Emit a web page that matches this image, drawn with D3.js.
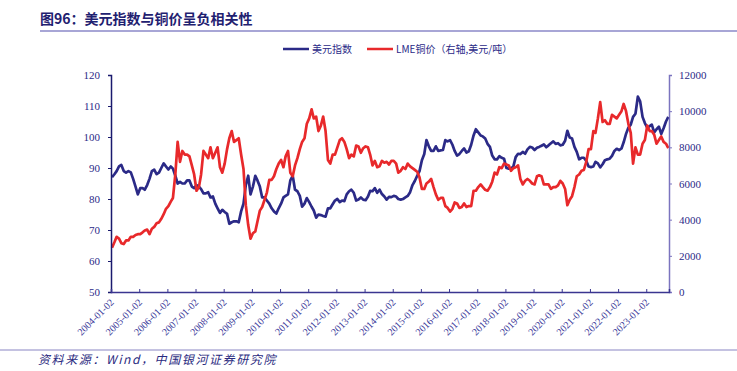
<!DOCTYPE html>
<html>
<head>
  <meta charset="utf-8">
  <script src="https://d3js.org/d3.v7.min.js"></script>
  <title>美元指数与铜价</title>
  <style>
    body { margin: 0; background: #fff; }
    text { font-family: "Liberation Serif", "Times New Roman", serif; }
    .cjk { font-family: "Noto Sans CJK SC", sans-serif; }
  </style>
</head>
<body>
<script>
// monthly values, Jan 2004 - Oct 2023
var dxy = [
  87.0, 88.0, 89.0, 90.5, 91.0, 89.0, 88.5, 89.0, 88.6, 86.5, 84.0, 81.5,
  83.5, 83.5, 83.0, 84.5, 86.5, 89.0, 89.5, 88.0, 88.5, 90.0, 91.5, 90.5,
  89.5, 90.5, 89.8, 87.5, 85.0, 85.5, 85.0, 85.0, 86.0, 86.0, 84.0, 83.5,
  84.5, 84.0, 83.2, 81.8, 81.8, 82.2, 80.5, 80.8, 78.5, 77.0, 75.5, 76.5,
  75.8, 75.2, 72.0, 72.5, 72.8, 72.8, 72.5, 76.0, 78.5, 84.5, 87.5, 81.5,
  84.0, 87.5, 86.0, 84.0, 80.5, 80.5, 79.5, 78.5, 77.0, 76.0, 75.3, 77.0,
  78.5, 80.5, 81.0, 81.5, 86.0, 87.5, 83.0, 82.5, 81.0, 77.5, 78.5, 80.3,
  79.0, 77.5, 76.3, 74.0, 75.0, 74.8, 74.5, 74.3, 77.0, 77.0, 78.3, 79.5,
  80.0, 79.0, 79.5, 79.3, 81.5, 82.5, 83.0, 82.0, 79.5, 79.8, 80.5, 79.8,
  79.6, 80.8, 82.6, 82.5, 83.5, 82.0, 83.0, 81.6, 80.8, 79.8, 80.7, 80.6,
  81.0, 80.8, 80.0, 79.8, 80.0, 80.5, 81.0, 82.2, 84.5, 85.8, 87.5, 89.0,
  92.5, 94.5, 99.0, 97.0, 95.5, 95.5, 97.0, 95.5, 95.7, 95.8, 99.0, 98.6,
  99.0, 97.5, 95.5, 94.0, 94.5, 95.5, 96.3, 95.0, 95.4, 97.5, 100.5, 102.5,
  101.5, 100.5, 100.2, 99.5, 97.8, 96.8, 94.0, 92.8, 92.8, 93.8, 93.3, 93.0,
  90.0, 89.8, 89.8, 90.5, 93.5, 94.6, 94.5, 95.2, 94.6, 96.0, 96.8, 96.6,
  95.8, 96.5, 96.8, 97.2, 97.6, 96.7, 97.3, 98.0, 98.6, 97.8, 98.0, 97.3,
  97.5, 98.8, 102.0, 99.8, 99.5, 96.8, 95.2, 92.8, 93.3, 93.3, 92.3, 90.5,
  90.3, 90.5, 92.0, 91.5, 90.2, 91.2, 92.5, 92.8, 93.0, 93.9, 95.5, 96.2,
  95.8, 96.3, 98.3, 101.0, 103.0, 104.0, 106.5, 107.5, 113.0, 111.5, 106.5, 104.5,
  103.0, 103.5, 104.0, 101.5, 102.5, 103.3, 101.0, 102.8, 105.0, 106.5
];

var copper = [
  2450, 2750, 3050, 2950, 2700, 2650, 2850, 2850, 3050, 3050, 3150, 3200,
  3200, 3300, 3400, 3450, 3200, 3500, 3600, 3800, 3850, 4050, 4300, 4600,
  4750, 5000, 5200, 6500, 8300, 7200, 7800, 7600, 7600, 7500, 7000, 6500,
  5600, 5800, 6500, 7800, 7600, 7400, 8000, 7400, 7700, 8000, 6900, 6600,
  7100, 7900, 8500, 8900, 8300, 8400, 8500, 7600, 6800, 4800, 3700, 2950,
  3250, 3350, 3900, 4500, 4700, 5100, 5500, 6200, 6200, 6400, 6800, 7100,
  7300, 6900, 7500, 7800, 6600, 6400, 7000, 7400, 7900, 8300, 8500, 9300,
  9600, 10100, 9600, 9700, 8900, 9200, 9700, 8900, 7300, 7100, 7600, 7600,
  8000, 8400, 8500, 8300, 7900, 7400, 7600, 7500, 8100, 8050, 7700, 7950,
  8050, 8000, 7600, 7000, 7250, 6900, 6950, 7250, 7150, 7200, 7050, 7250,
  7250, 7100, 6600, 6700, 6900, 6800, 7100, 6950, 6850, 6750, 6650, 6350,
  5700, 5700, 6000, 6100, 6250, 5800, 5400, 5100, 5200, 5200, 4750, 4650,
  4450, 4600, 4950, 4900, 4650, 4700, 4900, 4700, 4750, 4750, 5600, 5600,
  5800, 5950, 5800, 5650, 5600, 5800, 6100, 6600, 6500, 6900, 6850, 7100,
  7050, 7000, 6700, 6850, 6900, 7000, 6250, 5950, 6150, 6250, 6150, 6000,
  5950, 6400, 6450, 6400, 5950, 5950, 5950, 5700, 5800, 5800, 5900, 6150,
  6000, 5700, 4800, 5100, 5300, 5800, 6400, 6500, 6700, 6750, 7200, 7900,
  7900, 8900, 8800, 9600, 10500, 9400, 9500, 9300, 9300, 9800, 9700, 9600,
  9800, 10000, 10400, 10000, 9300, 8800, 7100, 8000, 7600, 7600, 8200, 8400,
  9200, 8900, 8900, 8700, 8200, 8400, 8600, 8300, 8200, 7950
];

var years = d3.range(2004, 2024);
var leftTicks = [50, 60, 70, 80, 90, 100, 110, 120];
var rightTicks = [0, 2000, 4000, 6000, 8000, 10000, 12000];

var dates = dxy.map(function(d, i) { return new Date(2004, i, 15); });

var W = 737, H = 371;
var svg = d3.select("body").append("svg")
  .attr("width", W).attr("height", H);

var x = d3.scaleTime()
  .domain([new Date(2004, 0, 2), new Date(2023, 9, 24)])
  .range([111, 669]);
var yL = d3.scaleLinear().domain([50, 120]).range([292, 75]);
var yR = d3.scaleLinear().domain([0, 12000]).range([292, 75]);

var navy = "#2b2a87";

// title
svg.append("text").attr("class", "cjk")
  .attr("x", 40).attr("y", 24)
  .attr("font-size", 14).attr("font-weight", "bold")
  .attr("fill", "#1f2170")
  .text("图96：美元指数与铜价呈负相关性");
svg.append("line")
  .attr("x1", 40).attr("x2", W).attr("y1", 31).attr("y2", 31)
  .attr("stroke", "#a8a6d6").attr("stroke-width", 2);

// legend
var legend = [
  { name: "美元指数", color: navy, x: 283 },
  { name: "LME铜价（右轴,美元/吨）", color: "#e8292b", x: 367 }
];
legend.forEach(function(l) {
  svg.append("line")
    .attr("x1", l.x).attr("x2", l.x + 26).attr("y1", 49).attr("y2", 49)
    .attr("stroke", l.color).attr("stroke-width", 2.5);
  svg.append("text").attr("class", "cjk")
    .attr("x", l.x + 29).attr("y", 53)
    .attr("font-size", 10).attr("fill", navy)
    .text(l.name);
});

// lines
var lineL = d3.line().x(function(d, i) { return x(dates[i]); }).y(function(d) { return yL(d); });
var lineR = d3.line().x(function(d, i) { return x(dates[i]); }).y(function(d) { return yR(d); });

svg.append("path").datum(dxy)
  .attr("d", lineL).attr("fill", "none")
  .attr("stroke", navy).attr("stroke-width", 2.7)
  .attr("stroke-linejoin", "round");
svg.append("path").datum(copper)
  .attr("d", lineR).attr("fill", "none")
  .attr("stroke", "#e8292b").attr("stroke-width", 2.7)
  .attr("stroke-linejoin", "round");

// axes
var gL = svg.append("g").attr("transform", "translate(111,0)")
  .call(d3.axisLeft(yL).tickValues(leftTicks).tickSize(3).tickPadding(8));
gL.select(".domain").attr("stroke", "#1a1a6e").attr("stroke-width", 1.5);
gL.selectAll(".tick line").attr("stroke", "#1a1a6e");
gL.selectAll("text").attr("font-size", 11).attr("fill", navy)
  .style("font-family", "Liberation Serif");

var gR = svg.append("g").attr("transform", "translate(669,0)")
  .call(d3.axisRight(yR).tickValues(rightTicks).tickFormat(d3.format("d"))
    .tickSize(3).tickPadding(7));
gR.select(".domain").attr("stroke", "#7b74bf").attr("stroke-width", 1.5);
gR.selectAll(".tick line").attr("stroke", "#7b74bf");
gR.selectAll("text").attr("font-size", 11).attr("fill", navy)
  .style("font-family", "Liberation Serif");

var gX = svg.append("g").attr("transform", "translate(0,292)")
  .call(d3.axisBottom(x)
    .tickValues(years.map(function(y) { return new Date(y, 0, 2); }))
    .tickFormat(d3.timeFormat("%Y-%m-%d"))
    .tickSize(-3));
gX.select(".domain").attr("stroke", "#3a3590").attr("stroke-width", 1.5);
gX.selectAll(".tick line").attr("stroke", "#3a3590");
gX.selectAll("text")
  .attr("y", 0).attr("dy", 0)
  .attr("text-anchor", "end")
  .attr("transform", "translate(3,11) rotate(-45)")
  .attr("font-size", 10).attr("fill", "#3b3a9a")
  .style("font-family", "Liberation Serif");

// source
svg.append("line")
  .attr("x1", 0).attr("x2", W).attr("y1", 350).attr("y2", 350)
  .attr("stroke", "#8a86c4").attr("stroke-width", 1.2);
svg.append("text").attr("class", "cjk")
  .attr("x", 38).attr("y", 364)
  .attr("font-size", 12).attr("font-style", "italic")
  .attr("letter-spacing", 1.6)
  .attr("fill", "#2a2a80")
  .text("资料来源：Wind，中国银河证券研究院");
</script>
</body>
</html>
